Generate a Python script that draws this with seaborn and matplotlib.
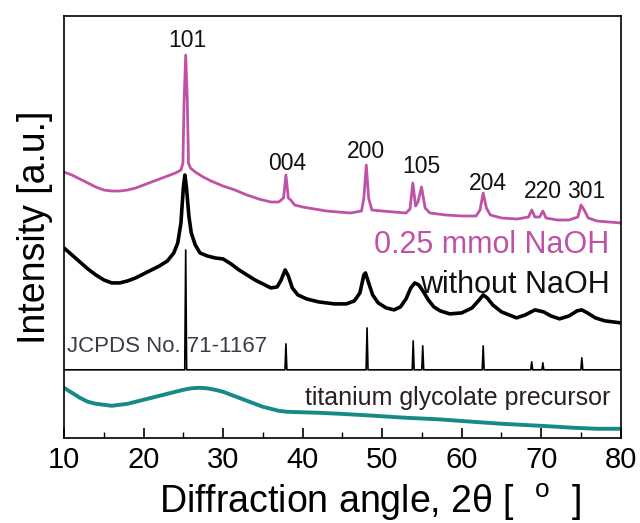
import numpy as np
import pandas as pd
import matplotlib
matplotlib.use("Agg")
import matplotlib.pyplot as plt
import seaborn as sns
from matplotlib.ticker import MultipleLocator

# ===============================
# DATA (intensity in a.u.)
# ===============================
naoh_theta = [10, 11, 12, 13, 14, 15, 16, 17, 18, 19, 20, 21, 22, 23, 24, 24.7, 24.95,
              25.1, 25.3, 25.5, 25.65, 25.9, 26.5, 27.5, 28.5, 30, 31.5, 33, 34.5, 36,
              37, 37.6, 37.9, 38.2, 38.5, 39, 40, 41.5, 43, 44.5, 46, 47.4, 47.7, 48.0,
              48.3, 48.7, 50, 51.5, 53, 53.5, 53.85, 54.2, 54.5, 54.95, 55.4, 56, 58,
              60, 61.8, 62.3, 62.7, 63.1, 63.6, 65, 67, 68.4, 68.8, 69.2, 69.8, 70.2,
              70.6, 72, 73.5, 74.6, 75.0, 75.4, 75.9, 77, 78.5, 80]
naoh_int = [266, 263, 259, 255, 251, 248, 247, 247, 248, 250, 253, 256, 259, 262, 265,
            268, 275, 338, 383, 338, 275, 270, 266, 261, 257, 252, 248, 243, 239, 236,
            236, 240, 263, 240, 238, 233, 231, 229, 227, 226, 225, 227, 240, 273,
            240, 228, 227, 226, 225, 229, 255, 232, 236, 251, 230, 225, 223,
            222, 222, 228, 245, 230, 223, 220, 219, 221, 228, 221, 221, 227,
            220, 218, 218, 221, 233, 228, 220, 217, 216, 215]

plain_theta = [10, 11, 12, 13, 14, 15, 16, 17, 18, 19, 20, 21, 22, 23, 23.8, 24.3, 24.7,
               25.0, 25.2, 25.4, 25.7, 26.0, 26.5, 27.1, 28, 29, 30, 31, 32, 33, 34, 35,
               36, 36.8, 37.3, 37.8, 38.2, 38.7, 39.4, 40.5, 42, 44, 45.5, 46.5, 47.2,
               47.7, 47.9, 48.3, 48.8, 49.5, 50.5, 51.5, 52.3, 53, 53.6, 54.1, 54.6,
               55.2, 55.8, 56.5, 57.3, 58.5, 60, 61.3, 62.2, 62.7, 63.2, 63.9, 65,
               66.9, 68, 69.2, 70.3, 71.2, 72.3, 73.5, 74.5, 75.1, 75.8, 76.8, 78, 80]
plain_int = [190, 183, 176, 169, 163, 158, 155, 155, 157, 160, 164, 168, 172, 177, 185,
             195, 215, 250, 263, 250, 222, 205, 193, 185, 182, 180, 179, 174, 168, 163,
             158, 154, 150, 151, 158, 168, 162, 150, 143, 139, 136, 134, 134, 137, 145,
             163, 165, 155, 143, 135, 130, 128, 131, 139, 150, 155, 153,
             146, 138, 131, 127, 124, 125, 130, 138, 143, 140, 133, 126,
             120, 123, 128, 126, 122, 119, 122, 127, 128, 125, 120, 117, 115]

jcpds_theta = [25.3, 37.9, 48.1, 53.9, 55.1, 62.7, 68.8, 70.2, 75.1]
jcpds_top = [188, 94, 110, 97, 92, 92, 76, 75, 80]
jcpds_base = 68

prec_theta = [10, 11, 12, 13, 14, 15, 16, 17, 18, 19, 20, 21, 22, 23, 24, 25, 26, 27, 28,
              29, 30, 31, 32, 33, 34, 35, 36, 37, 38, 40, 42, 44.7, 48, 53, 57, 61.4,
              65, 69.8, 72, 74, 77, 80]
prec_int = [50, 45, 40, 36, 34, 33, 32, 33, 34, 36, 38, 40, 42, 44, 46, 48, 49.5, 50,
            49.5, 48, 46, 43, 40, 37, 34, 31, 29, 27, 26, 25.5, 25, 24, 22.5, 20, 18.5,
            16, 14, 12, 11, 10, 9, 9]

hkl_labels = ["101", "004", "200", "105", "204", "220", "301"]
hkl_theta = [25.5, 38.1, 47.9, 54.9, 63.3, 70.2, 75.6]
hkl_y = [391, 268, 280, 265, 248, 240, 240]

x_ticks = [10, 20, 30, 40, 50, 60, 70, 80]

PINK = "#C052A6"
TEAL = "#168A87"

# ===============================
# STYLE
# ===============================
sns.set_style("ticks")
plt.rcParams['font.family'] = ['Liberation Sans', 'DejaVu Sans']
plt.rcParams['mathtext.fontset'] = 'custom'
plt.rcParams['mathtext.rm'] = 'Liberation Sans'
plt.rcParams['text.color'] = 'black'
plt.rcParams['axes.labelcolor'] = 'black'
plt.rcParams['xtick.color'] = 'black'

# stick pattern: baseline with narrow spikes
stick_x = [10]
stick_y = [jcpds_base]
for t, h in zip(jcpds_theta, jcpds_top):
    stick_x += [t - 0.12, t, t + 0.12]
    stick_y += [jcpds_base, h, jcpds_base]
stick_x.append(80)
stick_y.append(jcpds_base)

df_naoh = pd.DataFrame({"theta": naoh_theta, "I": naoh_int})
df_plain = pd.DataFrame({"theta": plain_theta, "I": plain_int})
df_stick = pd.DataFrame({"theta": stick_x, "I": stick_y})
df_prec = pd.DataFrame({"theta": prec_theta, "I": prec_int})

fig = plt.figure(figsize=(6.4, 5.23), dpi=100)
ax = fig.add_axes([0.1, 0.163, 0.87, 0.806])

sns.lineplot(data=df_naoh, x="theta", y="I", color=PINK, lw=2.0,
             estimator=None, sort=False, ax=ax)
sns.lineplot(data=df_plain, x="theta", y="I", color="black", lw=2.6,
             estimator=None, sort=False, ax=ax)
sns.lineplot(data=df_stick, x="theta", y="I", color="black", lw=1.2,
             estimator=None, sort=False, ax=ax)
sns.lineplot(data=df_prec, x="theta", y="I", color=TEAL, lw=2.8,
             estimator=None, sort=False, ax=ax)

for lab, t, y in zip(hkl_labels, hkl_theta, hkl_y):
    ax.text(t, y, lab, ha="center", va="baseline", fontsize=16.5, color="#111111")

ax.text(78.6, 185, "0.25 mmol NaOH", ha="right", va="baseline", fontsize=22, color=PINK)
ax.text(78.6, 145, "without NaOH", ha="right", va="baseline", fontsize=22, color="#111111")
ax.text(10.4, 86, "JCPDS No. 71-1167", ha="left", va="baseline", fontsize=16, color="#3a3a48")
ax.text(78.7, 33, "titanium glycolate precursor", ha="right", va="baseline",
        fontsize=18, color="#2a2024")

ax.set_xlim(10, 80)
ax.set_ylim(0, 422)
ax.set_xticks(x_ticks)
ax.xaxis.set_minor_locator(MultipleLocator(5))
ax.set_yticks([])
ax.tick_params(axis="x", which="major", direction="in", length=7, width=1.2,
               labelsize=21, pad=6)
ax.tick_params(axis="x", which="minor", direction="in", length=4, width=1.0)
for s in ax.spines.values():
    s.set_linewidth(1.2)
    s.set_color("black")

ax.set_xlabel(r"Diffraction angle, 2θ [  $^{\rm o}$  ]", fontsize=27)
ax.xaxis.set_label_coords(0.55, -0.105)
ax.xaxis.label.set_va("top")
ax.set_ylabel("Intensity [a.u.]", fontsize=27, labelpad=8)

plt.savefig("out.png", dpi=100)
plt.close()
